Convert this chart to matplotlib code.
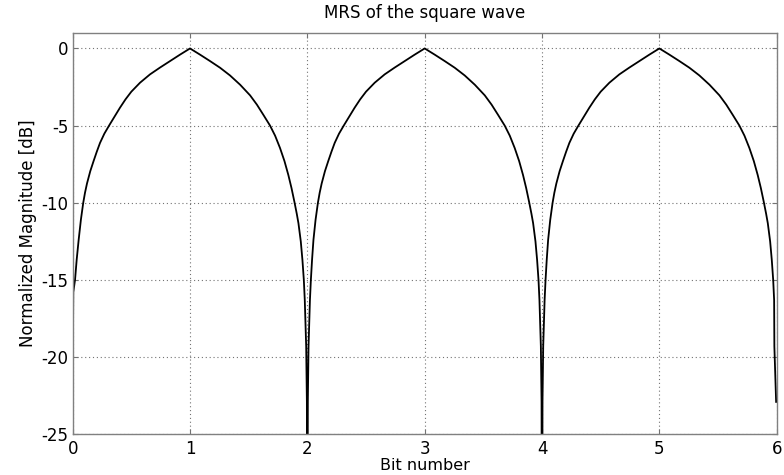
import numpy as np
import matplotlib
matplotlib.use("Agg")
import matplotlib.pyplot as plt

# values (bit number, normalized magnitude in dB)
# first lobe, 0 -> 2
arch1_bits = [
    0.000, 0.002, 0.005, 0.020, 0.034, 0.051, 0.070, 0.090, 0.105, 0.122,
    0.150, 0.178, 0.205, 0.233, 0.270, 0.310, 0.350, 0.403, 0.450, 0.500,
    0.574, 0.659, 0.744, 0.829, 0.915, 1.000,
    1.085, 1.171, 1.256, 1.341, 1.427, 1.512, 1.570, 1.625, 1.682, 1.725,
    1.767, 1.805, 1.838, 1.865, 1.890, 1.910, 1.924, 1.944, 1.958, 1.970,
    1.978, 1.990, 1.996, 2.000,
]
arch1_db = [
    -22.9, -19.3, -15.8, -15.0, -13.7, -12.4, -11.1, -10.0, -9.35, -8.75,
    -7.95, -7.30, -6.70, -6.12, -5.52, -5.00, -4.50, -3.84, -3.30, -2.80,
    -2.22, -1.68, -1.24, -0.82, -0.40, 0.0,
    -0.40, -0.82, -1.25, -1.75, -2.35, -3.04, -3.64, -4.30, -5.00, -5.65,
    -6.45, -7.30, -8.20, -9.05, -9.95, -10.72, -11.32, -12.5, -13.7, -15.0,
    -16.3, -19.3, -22.9, -40.0,
]

# second lobe, 2 -> 4
arch2_bits = [
    2.004, 2.010, 2.022, 2.030, 2.040, 2.052, 2.070, 2.090, 2.105, 2.122,
    2.150, 2.178, 2.205, 2.233, 2.270, 2.310, 2.350, 2.403, 2.450, 2.500,
    2.574, 2.659, 2.744, 2.829, 2.915, 3.000,
    3.085, 3.171, 3.256, 3.341, 3.427, 3.512, 3.570, 3.625, 3.682, 3.725,
    3.767, 3.805, 3.838, 3.865, 3.890, 3.910, 3.924, 3.944, 3.958, 3.970,
    3.978, 3.990, 3.996, 4.000,
]
arch2_db = [
    -22.9, -19.3, -16.3, -15.0, -13.7, -12.4, -11.1, -10.0, -9.35, -8.75,
    -7.95, -7.30, -6.70, -6.12, -5.52, -5.00, -4.50, -3.84, -3.30, -2.80,
    -2.22, -1.68, -1.24, -0.82, -0.40, 0.0,
    -0.40, -0.82, -1.25, -1.75, -2.35, -3.04, -3.64, -4.30, -5.00, -5.65,
    -6.45, -7.30, -8.20, -9.05, -9.95, -10.72, -11.32, -12.5, -13.7, -15.0,
    -16.3, -19.3, -22.9, -40.0,
]

# third lobe, 4 -> 6
arch3_bits = [
    4.004, 4.010, 4.022, 4.030, 4.040, 4.052, 4.070, 4.090, 4.105, 4.122,
    4.150, 4.178, 4.205, 4.233, 4.270, 4.310, 4.350, 4.403, 4.450, 4.500,
    4.574, 4.659, 4.744, 4.829, 4.915, 5.000,
    5.085, 5.171, 5.256, 5.341, 5.427, 5.512, 5.570, 5.625, 5.682, 5.725,
    5.767, 5.805, 5.838, 5.865, 5.890, 5.910, 5.924, 5.944, 5.958, 5.970,
    5.978, 5.980, 5.995,
]
arch3_db = [
    -22.9, -19.3, -16.3, -15.0, -13.7, -12.4, -11.1, -10.0, -9.35, -8.75,
    -7.95, -7.30, -6.70, -6.12, -5.52, -5.00, -4.50, -3.84, -3.30, -2.80,
    -2.22, -1.68, -1.24, -0.82, -0.40, 0.0,
    -0.40, -0.82, -1.25, -1.75, -2.35, -3.04, -3.64, -4.30, -5.00, -5.65,
    -6.45, -7.30, -8.20, -9.05, -9.95, -10.72, -11.32, -12.5, -13.7, -15.0,
    -16.3, -19.3, -22.9,
]

x_ticks = [0, 1, 2, 3, 4, 5, 6]
y_ticks = [-25, -20, -15, -10, -5, 0]

bit_pos = np.array(arch1_bits + arch2_bits + arch3_bits)
mag_db = np.array(arch1_db + arch2_db + arch3_db)

plt.rcParams['font.family'] = ['DejaVu Sans']
plt.rcParams['axes.unicode_minus'] = False

fig = plt.figure(figsize=(7.84, 4.75), dpi=100)
ax = fig.add_axes([0.0927, 0.0857, 0.898, 0.8448])

ax.plot(bit_pos, mag_db, color='black', linewidth=1.3)

ax.set_xlim(0, 6)
ax.set_ylim(-25, 1)
ax.set_xticks(x_ticks)
ax.set_yticks(y_ticks)

# matlab look: dotted grid, ticks inside on every side, grey box
ax.grid(True, color='0.45', linestyle=(0, (1, 2.5)), linewidth=0.8)
ax.tick_params(direction='in', top=True, right=True, length=3.5,
               width=0.8, color='0.45', labelsize=12)
ax.tick_params(axis='x', pad=4)
ax.tick_params(axis='y', pad=3)
for sp in ax.spines.values():
    sp.set_color('0.5')
    sp.set_linewidth(1.0)

ax.set_title('MRS of the square wave', fontsize=12, pad=11)
ax.set_xlabel('Bit number', fontsize=11.5, labelpad=0)
ax.set_ylabel('Normalized Magnitude [dB]', fontsize=12, labelpad=3)

fig.savefig('out.png', dpi=100)
